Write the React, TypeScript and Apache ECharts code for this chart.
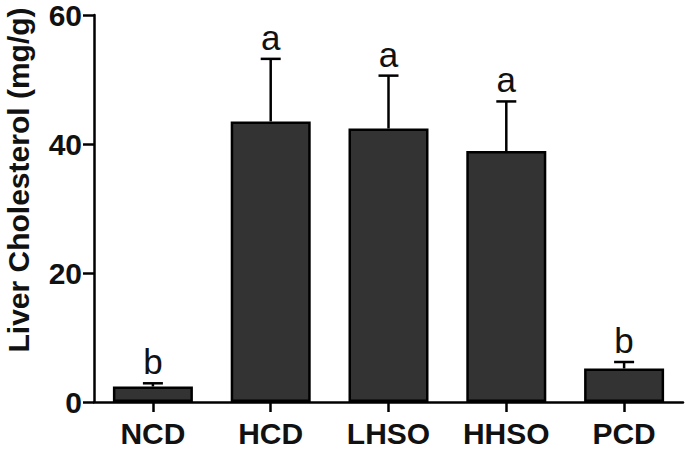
import React, { useEffect, useRef } from "react";
import * as echarts from "echarts";

const categories = ["NCD", "HCD", "LHSO", "HHSO", "PCD"];
const means = [2.4, 43.5, 42.4, 38.9, 5.2];
const upper = [2.9, 53.2, 50.6, 46.6, 6.2];
const letters = ["b", "a", "a", "a", "b"];
const yTicks = { min: 0, max: 60, interval: 20 };
const yTitle = "Liver Cholesterol (mg/g)";

const FONT = "'Liberation Sans', Arial, Helvetica, sans-serif";

export default function App() {
  const ref = useRef<HTMLDivElement>(null);
  useEffect(() => {
    if (!ref.current) return;
    const chart = echarts.init(ref.current, undefined, { renderer: "svg" });
    const errData = categories.map((_, i) => [i, means[i], upper[i]]);
    chart.setOption({
      animation: false,
      backgroundColor: "#ffffff",
      grid: { left: 94, right: 2, top: 13, bottom: 47, containLabel: false },
      xAxis: {
        type: "category",
        data: categories,
        boundaryGap: true,
        axisLine: { show: true, lineStyle: { color: "#000", width: 2.5 } },
        axisTick: { show: true, alignWithLabel: true, length: 10, lineStyle: { color: "#000", width: 2.5 } },
        axisLabel: { color: "#111", fontSize: 30, fontWeight: "bold", fontFamily: FONT, margin: 16 },
        splitLine: { show: false },
      },
      yAxis: {
        type: "value",
        min: yTicks.min,
        max: yTicks.max,
        interval: yTicks.interval,
        axisLine: { show: true, lineStyle: { color: "#000", width: 2.5 } },
        axisTick: { show: true, length: 11, lineStyle: { color: "#000", width: 2.5 } },
        axisLabel: { color: "#111", fontSize: 30, fontWeight: "bold", fontFamily: FONT, margin: 12 },
        splitLine: { show: false },
      },
      graphic: [
        {
          type: "text",
          x: 18,
          y: 180,
          rotation: Math.PI / 2,
          style: {
            text: yTitle,
            fontSize: 30,
            fontWeight: "bold",
            fontFamily: FONT,
            fill: "#111",
            align: "center",
            verticalAlign: "middle",
          },
        },
      ],
      series: [
        {
          type: "bar",
          data: means,
          barWidth: 80,
          itemStyle: { color: "#333333", borderColor: "#000", borderWidth: 2.5 },
          z: 2,
        },
        {
          type: "custom",
          data: errData,
          encode: { x: 0, y: [1, 2] },
          z: 3,
          renderItem: (params: any, api: any) => {
            const x = api.value(0);
            const p0 = api.coord([x, api.value(1)]);
            const p1 = api.coord([x, api.value(2)]);
            const half = 10;
            return {
              type: "group",
              children: [
                {
                  type: "line",
                  shape: { x1: p0[0], y1: p0[1], x2: p1[0], y2: p1[1] },
                  style: { stroke: "#000", lineWidth: 2.5 },
                },
                {
                  type: "line",
                  shape: { x1: p1[0] - half, y1: p1[1], x2: p1[0] + half, y2: p1[1] },
                  style: { stroke: "#000", lineWidth: 2.5 },
                },
                {
                  type: "text",
                  x: p1[0],
                  y: p1[1] - 4,
                  style: {
                    text: letters[params.dataIndex],
                    fontSize: 35,
                    fontFamily: FONT,
                    fill: "#111",
                    align: "center",
                    verticalAlign: "bottom",
                  },
                },
              ],
            };
          },
        },
      ],
    });
    return () => chart.dispose();
  }, []);
  return (
    <div
      ref={ref}
      style={{ position: "absolute", left: 0, top: 0, width: 685, height: 449 }}
    />
  );
}
